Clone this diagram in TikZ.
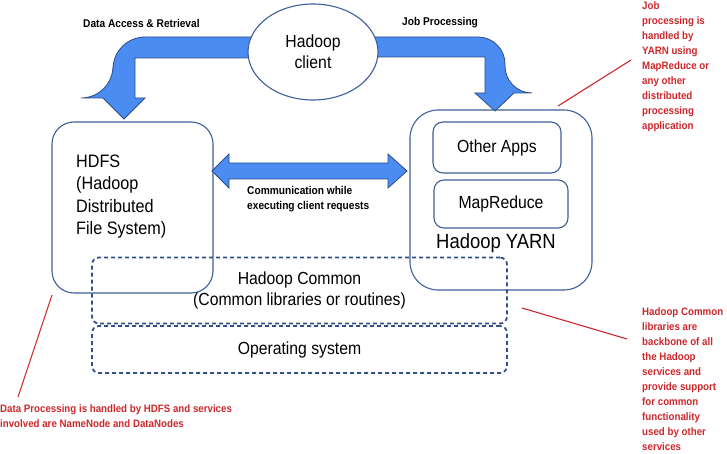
\documentclass[tikz,border=0pt]{standalone}
\usepackage{fontspec}
\setmainfont{Liberation Sans}[FakeStretch=0.9]
\usetikzlibrary{shapes.geometric}

\definecolor{boxblue}{RGB}{63,94,154}
\definecolor{layerblue}{RGB}{52,80,140}
\definecolor{arrowfill}{RGB}{74,140,242}
\definecolor{arrowline}{RGB}{45,75,135}
\definecolor{notered}{RGB}{204,40,44}

\begin{document}
\begin{tikzpicture}[x=1pt,y=-1pt,
        box/.style={draw=boxblue, line width=1.1pt, rounded corners=#1, inner sep=0pt},
        layer/.style={draw=layerblue, line width=1.8pt, dash pattern=on 4pt off 3pt,
                      rounded corners=7pt, minimum width=415pt, align=center},
        fatarrow/.style={fill=arrowfill, draw=arrowline, line width=0.8pt, line join=miter},
        mainfont/.style={font=\fontsize{17.5}{21}\selectfont},
        flowlabel/.style={font=\bfseries\fontsize{11.3}{15}\selectfont, inner sep=0pt, align=left},
        note/.style={font=\bfseries\fontsize{10.8}{15}\selectfont, text=notered,
                     align=left, inner sep=0pt, anchor=west},
        pointer/.style={draw=notered, line width=1.1pt}]
        \useasboundingbox (0,0) rectangle (727,454);

        % fat arrows from the client
        \draw[fatarrow] (313,37) [rounded corners=32pt] -- (113,37) -- (113,98)
                        [sharp corners] -- (103,98) -- (124,119) -- (145,98) -- (135,98) -- (135,58)
                        [rounded corners=10pt] -- (313,58) [sharp corners] -- cycle;
        \draw[fatarrow] (313,37) [rounded corners=27pt] -- (505,37) -- (505,93)
                        [sharp corners] -- (514,93) -- (495,111) -- (475,93) -- (485,93) -- (485,57)
                        [rounded corners=10pt] -- (313,57) [sharp corners] -- cycle;

        \node[ellipse, draw=boxblue, line width=1.1pt, fill=white, minimum width=130pt,
              minimum height=96pt, align=center, mainfont] (client) at (313,52) {Hadoop\\client};

        \node[flowlabel, anchor=west] (accesslabel) at (83,23) {Data Access \& Retrieval};
        \node[flowlabel, anchor=west] (joblabel) at (402,23) {Job Processing};

        % HDFS
        \node[box=22pt, minimum width=161pt, minimum height=171pt] (hdfs) at (132.5,207.5) {};
        \node[mainfont, align=left, inner sep=0pt, anchor=west,
              font=\fontsize{18}{22.3}\selectfont] (hdfslabel) at (76,196.5)
              {HDFS\\(Hadoop\\Distributed\\File System)};

        % YARN
        \node[box=28pt, minimum width=182pt, minimum height=180pt] (yarn) at (501,200) {};
        \node[box=10pt, minimum width=128pt, minimum height=51pt, mainfont] (apps) at (497,147.5) {Other Apps};
        \node[box=10pt, minimum width=134pt, minimum height=48pt, mainfont] (mapred) at (501,204) {MapReduce};
        \node[font=\fontsize{20.5}{24}\selectfont, inner sep=0pt] (yarnlabel) at (496,243) {Hadoop YARN};

        % communication between HDFS and YARN
        \draw[fatarrow] (212,171) -- (229,154) -- (229,163) -- (388,163) -- (388,154) -- (407,171)
                        -- (388,188) -- (388,179) -- (229,179) -- (229,188) -- cycle;
        \node[flowlabel, anchor=west] (commlabel) at (247,199.5) {Communication while\\executing client requests};

        % common layers
        \node[layer, minimum height=66pt, mainfont] (common) at (299.5,290.5)
              {Hadoop Common\\(Common libraries or routines)};
        \node[layer, minimum height=47pt, mainfont] (os) at (299.5,349.5) {Operating system};

        % notes
        \node[note] (jobnote) at (642,67) {Job\\processing is\\handled by\\YARN using\\MapReduce or\\any other\\distributed\\processing\\application};
        \node[note] (commonnote) at (642,379.5) {Hadoop Common\\libraries are\\backbone of all\\the Hadoop\\services and\\provide support\\for common\\functionality\\used by other\\services};
        \node[note] (hdfsnote) at (0,416) {Data Processing is handled by HDFS and services\\involved are NameNode and DataNodes};

        \coordinate (jobtip) at (558,106);
        \coordinate (jobend) at (631,60);
        \coordinate (commontip) at (522,308);
        \coordinate (commonend) at (627,339);
        \coordinate (hdfstip) at (52,295);
        \coordinate (hdfsend) at (18,397);
        \draw[pointer] (jobtip) -- (jobend);
        \draw[pointer] (commontip) -- (commonend);
        \draw[pointer] (hdfstip) -- (hdfsend);
\end{tikzpicture}
\end{document}
